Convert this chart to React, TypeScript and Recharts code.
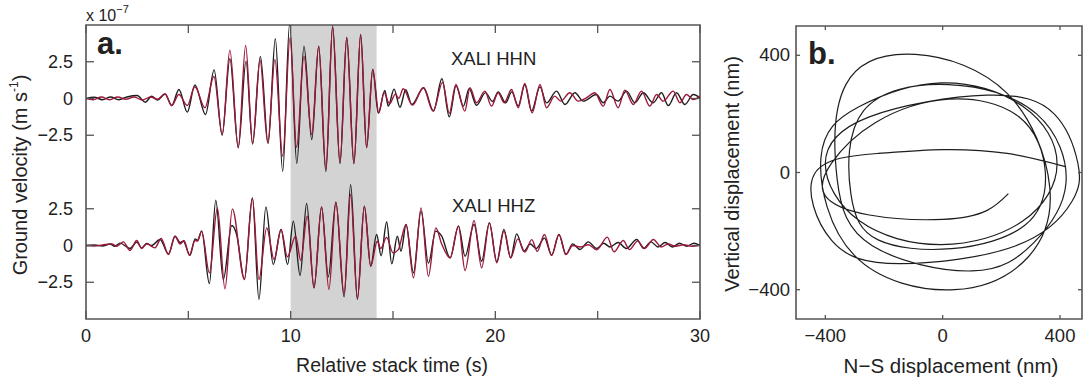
import React from 'react'
import { LineChart, Line, XAxis, YAxis, ReferenceArea } from 'recharts'

// ground velocity in units of 1e-7 m/s, read at the turning points of each trace: [time (s), value]
const hhnObserved: [number, number][] = [
  [0, 0], [0.4, 0.08], [0.8, -0.08], [1.2, 0.1], [1.6, -0.08], [2.0, 0.1], [2.5, 0.2], [2.9, -0.25],
  [3.2, 0.15], [3.5, -0.1], [3.86, 0.3], [4.19, -0.48], [4.54, 0.61], [4.95, -0.93], [5.32, 0.93],
  [5.84, -1.09], [6.26, 1.95], [6.65, -2.5], [7.03, 2.7], [7.44, -3.33], [7.82, 2.54], [8.14, -3.1],
  [8.52, 2.86], [8.9, -3.06], [9.25, 4.06], [9.61, -4.95], [9.95, 5.1], [10.3, -4.42], [10.65, 3.56],
  [11.03, -2.79], [11.37, 3.56], [11.72, -4.97], [12.05, 4.9], [12.41, -4.42], [12.74, 4.15],
  [13.09, -4.42], [13.42, 4.35], [13.71, -3.33], [14.01, 1.97], [14.28, -1.0], [14.6, 0.55],
  [14.77, -0.52], [15.05, 0.64], [15.34, -0.6], [15.62, 0.6], [15.92, -0.41], [16.5, 0.73],
  [16.98, -0.85], [17.39, 1.34], [17.75, -1.25], [18.08, 0.86], [18.44, -0.52], [18.72, 0.67],
  [19.08, -0.46], [19.52, 0.4], [19.86, -0.2], [20.14, 0.45], [20.5, -0.3], [20.8, 0.45], [21.12, -0.5],
  [21.44, 0.95], [21.77, -0.86], [22.18, 0.79], [22.5, -0.3], [22.99, 0.5], [23.4, -0.41], [23.89, 0.39],
  [24.29, -0.18], [24.94, 0.27], [25.27, -0.29], [25.6, 0.16], [26.0, -0.18], [26.41, 0.5], [26.82, -0.29],
  [27.23, 0.39], [27.71, -0.29], [28.12, 0.39], [28.45, -0.48], [28.85, 0.39], [29.26, -0.41],
  [29.67, 0.27], [30, 0.05],
]

const hhnSynthetic: [number, number][] = [
  [0, 0], [0.35, -0.08], [0.75, 0.1], [1.15, -0.08], [1.55, 0.1], [1.95, -0.06], [2.35, 0.1], [2.75, -0.1],
  [3.15, 0.1], [3.5, -0.05], [3.86, 0.32], [4.19, -0.48], [4.54, 0.27], [4.95, -0.48], [5.32, 0.8],
  [5.81, -0.63], [6.25, 1.5], [6.66, -2.45], [7.03, 3.29], [7.44, -3.35], [7.8, 3.61], [8.14, -3.06],
  [8.5, 2.65], [8.88, -3.01], [9.23, 2.65], [9.61, -3.93], [9.97, 4.13], [10.29, -3.33], [10.65, 2.88],
  [11.03, -2.45], [11.37, 3.56], [11.72, -4.83], [12.05, 4.88], [12.41, -4.37], [12.74, 4.13],
  [13.09, -4.42], [13.42, 4.35], [13.71, -3.35], [14.01, 1.97], [14.31, -0.97], [14.56, 0.4],
  [14.83, -0.35], [15.12, 0.3], [15.28, 0.0], [15.5, 0.66], [15.95, -0.45], [16.48, 0.73], [16.96, -0.86],
  [17.42, 1.1], [17.75, -1.0], [18.07, 0.95], [18.51, -0.86], [18.76, 0.73], [19.08, -0.29], [19.49, 0.5],
  [19.81, -0.52], [20.14, 0.39], [20.43, -0.29], [20.79, 0.61], [21.12, -0.63], [21.44, 1.02],
  [21.8, -0.98], [22.18, 0.95], [22.5, -0.63], [22.9, 0.16], [23.2, -0.18], [23.64, 0.39], [24.05, -0.18],
  [24.45, 0.05], [24.86, 0.39], [25.27, -0.52], [25.6, 0.61], [26.0, -0.63], [26.33, 0.57], [26.74, -0.41],
  [27.14, 0.5], [27.55, -0.52], [27.88, 0.27], [28.2, -0.18], [28.69, 0.5], [29.02, -0.29], [29.34, 0.27],
  [29.67, -0.07], [30, 0.16],
]

const hhzObserved: [number, number][] = [
  [0, 0], [0.4, 0.03], [0.8, -0.03], [1.18, 0.1], [1.4, -0.05], [1.66, 0.16], [2.15, -0.2], [2.48, 0.23],
  [2.72, -0.16], [2.97, 0.14], [3.2, 0.0], [3.62, 0.41], [4.03, -0.57], [4.35, 0.63], [4.6, 0.2],
  [4.75, 0.3], [5.08, -0.66], [5.33, 0.45], [5.45, 0.35], [5.65, 0.98], [6.03, -2.59], [6.34, 3.08],
  [6.71, -2.31], [7.12, 1.36], [7.36, 0.75], [7.74, -2.31], [8.13, 3.24], [8.45, -3.67], [8.79, 2.63],
  [9.15, -1.29], [9.53, 1.09], [9.85, -1.29], [10.13, 1.66], [10.46, -2.04], [10.78, 2.86], [11.14, -2.88],
  [11.51, 2.63], [11.84, -2.13], [12.21, 2.95], [12.61, -3.49], [12.93, 4.15], [13.26, -3.67], [13.6, 2.68],
  [13.91, -1.41], [14.2, 0.75], [14.42, -0.7], [14.69, 1.6], [14.94, -1.25], [15.21, 0.63], [15.39, -0.39],
  [15.64, 1.43], [16.0, -1.86], [16.37, 2.34], [16.73, -1.2], [17.09, 0.98], [17.38, 0.63], [17.79, -0.84],
  [18.2, 1.32], [18.52, -0.73], [18.96, 1.43], [19.33, -1.07], [19.71, 1.54], [20.07, -1.1], [20.42, 1.1],
  [20.75, -0.84], [21.04, 0.79], [21.4, -0.4], [21.7, 0.1], [22.0, -0.2], [22.4, 0.5], [22.75, -0.66],
  [23.11, 0.75], [23.45, -0.61], [23.78, 0.11], [24.14, -0.27], [24.54, 0.25], [24.95, -0.2], [25.3, 0.15],
  [25.6, -0.1], [26.0, 0.2], [26.4, -0.2], [26.91, 0.41], [27.25, -0.2], [27.6, 0.25], [27.95, -0.1],
  [28.3, 0.2], [28.65, -0.1], [29.0, 0.15], [29.35, -0.05], [29.7, 0.15], [30, 0.0],
]

const hhzSynthetic: [number, number][] = [
  [0, 0], [0.4, -0.03], [0.8, 0.03], [1.26, 0.11], [1.5, -0.05], [1.83, 0.25], [2.15, -0.34], [2.48, 0.34],
  [2.72, -0.2], [2.97, 0.11], [3.37, -0.16], [3.67, 0.48], [4.03, -0.61], [4.35, 0.63], [4.6, 0.1],
  [4.79, 0.34], [5.05, -0.66], [5.33, 0.34], [5.45, 0.3], [5.65, 0.98], [6.03, -1.86], [6.42, 2.56],
  [6.79, -2.95], [7.15, 2.49], [7.74, -2.31], [8.13, 3.24], [8.45, -2.31], [8.83, 1.2], [9.19, -0.95],
  [9.53, 1.09], [9.84, -0.77], [10.24, 0.63], [10.49, -1.0], [10.81, 1.99], [11.14, -2.88], [11.51, 2.63],
  [11.87, -2.99], [12.21, 2.95], [12.61, -3.3], [12.93, 3.47], [13.26, -3.6], [13.6, 2.68], [13.91, -1.41],
  [14.23, 0.29], [14.4, -0.2], [14.69, 0.55], [15.0, -0.5], [15.25, -0.3], [15.64, 1.43], [16.0, -2.2],
  [16.37, 2.56], [16.73, -2.09], [17.09, 1.2], [17.38, 0.1], [17.79, -0.84], [18.2, 1.32], [18.52, -1.7],
  [18.96, 1.7], [19.33, -1.52], [19.71, 1.54], [20.07, -1.18], [20.42, 0.98], [20.75, -0.84], [21.1, 0.45],
  [21.45, -0.45], [21.78, 0.4], [22.05, -0.4], [22.4, 0.75], [22.75, -0.66], [23.11, 0.75], [23.45, -0.61],
  [23.78, 0.0], [24.15, -0.1], [24.55, 0.05], [24.95, -0.3], [25.47, 0.57], [25.8, -0.43], [26.25, 0.34],
  [26.55, -0.27], [26.95, 0.3], [27.3, -0.2], [27.72, 0.41], [28.1, -0.1], [28.45, 0.1], [28.8, -0.05],
  [29.2, 0.05], [29.6, -0.05], [30, 0.02],
]

// particle motion, N-S vs vertical displacement (nm), in trace order
const particleMotion: [number, number][] = [
  [421, 19], [220, 65], [0, 78], [-220, 65], [-437, -5],
  [-380, -230], [-143, -311], [250, -250], [440, -100], [461, 31], [380, 200], [150, 264], [-250, 190],
  [-400, 30], [-284, -165], [-5, -246], [274, -165], [390, 30], [274, 225], [-5, 306], [-284, 225],
  [-415, 50], [-301, -283], [40, -400], [290, -290], [365, -50], [220, 270], [-93, 403], [-330, 300],
  [-360, -20], [-240, -250], [100, -336], [310, -240], [420, -40], [320, 200], [20, 300], [-270, 210],
  [-313, -72], [-220, -230], [30, -260], [280, -180], [350, 0], [260, 190], [20, 250], [-230, 170],
  [-380, 30], [-400, -80], [-250, -145], [0, -160], [150, -130], [224, -72],
]

const timeTicks = [0, 5, 10, 15, 20, 25, 30]
const timeTickLabels = ['0', '', '10', '', '20', '', '30']
const velocityTicks = [2.5, 0, -2.5]
const stationOffset = 10 // HHZ drawn this many units below HHN
const windowStart = 10
const windowEnd = 14.2
const dispXTicks = [-400, 0, 400]
const dispYTicks = [-400, 0, 400]

const axisColor = '#555'
const ink = '#222'
const observedColor = '#1e1e1e'
const syntheticColor = '#9c1838'
const font = '"Liberation Sans", Arial, Helvetica, sans-serif'

// plot boxes (px inside each chart)
const A = { left: 86, top: 25, right: 700, bottom: 319 }
const B = { left: 56, top: 26, right: 342, bottom: 319 }

const minus = (v: number) => (v < 0 ? '\u2212' + Math.abs(v) : String(v))

const toSeries = (pts: [number, number][], shift = 0) => pts.map(([t, v]) => ({ t, v: v - shift }))

function TimeTick({ x, payload }: any) {
  const label = timeTickLabels[timeTicks.indexOf(payload.value)]
  return (
    <g>
      <line x1={x} x2={x} y1={A.bottom} y2={A.bottom - 8} stroke={axisColor} strokeWidth={1.3} />
      <line x1={x} x2={x} y1={A.top} y2={A.top + 8} stroke={axisColor} strokeWidth={1.3} />
      <text x={x} y={A.bottom + 23} textAnchor="middle" fontSize={18} fill={ink} fontFamily={font}>
        {label}
      </text>
    </g>
  )
}

function VelocityTick({ y, payload }: any) {
  const v = payload.value
  const shown = v < -5 ? v + stationOffset : v
  return (
    <g>
      <line x1={A.left} x2={A.left + 8} y1={y} y2={y} stroke={axisColor} strokeWidth={1.3} />
      <line x1={A.right - 8} x2={A.right} y1={y} y2={y} stroke={axisColor} strokeWidth={1.3} />
      <text x={A.left - 13} y={y + 6} textAnchor="end" fontSize={18} fill={ink} fontFamily={font}>
        {minus(shown)}
      </text>
    </g>
  )
}

function DispXTick({ x, payload }: any) {
  return (
    <g>
      <line x1={x} x2={x} y1={B.bottom} y2={B.bottom - 4} stroke={axisColor} strokeWidth={1.3} />
      <line x1={x} x2={x} y1={B.top} y2={B.top + 4} stroke={axisColor} strokeWidth={1.3} />
      <text x={x} y={B.bottom + 23} textAnchor="middle" fontSize={18.5} fill={ink} fontFamily={font}>
        {minus(payload.value)}
      </text>
    </g>
  )
}

function DispYTick({ y, payload }: any) {
  return (
    <g>
      <line x1={B.left} x2={B.left + 4} y1={y} y2={y} stroke={axisColor} strokeWidth={1.3} />
      <line x1={B.right - 4} x2={B.right} y1={y} y2={y} stroke={axisColor} strokeWidth={1.3} />
      <text x={B.left - 6} y={y + 6} textAnchor="end" fontSize={18.5} fill={ink} fontFamily={font}>
        {minus(payload.value)}
      </text>
    </g>
  )
}

function Text({ left, top, size = 18, bold = false, rotate = false, children }: any) {
  return (
    <div
      style={{
        position: 'absolute',
        left,
        top,
        fontSize: size,
        fontWeight: bold ? 700 : 400,
        lineHeight: 1,
        whiteSpace: 'nowrap',
        color: ink,
        transform: rotate ? 'translate(-50%, -50%) rotate(-90deg)' : undefined,
      }}
    >
      {children}
    </div>
  )
}

function Centered({ left, top, size = 19.5, children }: any) {
  return (
    <div
      style={{
        position: 'absolute',
        left,
        top,
        fontSize: size,
        lineHeight: 1,
        whiteSpace: 'nowrap',
        color: ink,
        transform: 'translate(-50%, -50%)',
      }}
    >
      {children}
    </div>
  )
}

export default function App() {
  const lineProps = { type: 'monotone' as const, dot: false, activeDot: false, isAnimationActive: false, strokeWidth: 1.4, dataKey: 'v' }
  return (
    <div style={{ position: 'absolute', left: 0, top: 0, width: 1083, height: 382, background: '#fff', fontFamily: font, overflow: 'hidden' }}>
      <div style={{ position: 'absolute', left: 0, top: 0 }}>
        <LineChart width={710} height={382} margin={{ top: A.top, right: 710 - A.right, bottom: 382 - A.bottom - 1, left: A.left - 1 }}>
          <XAxis
            dataKey="t"
            type="number"
            domain={[0, 30]}
            ticks={timeTicks}
            interval={0}
            height={1}
            tickSize={0}
            tickMargin={0}
            tick={TimeTick}
            axisLine={false}
            allowDataOverflow
          />
          <YAxis
            type="number"
            domain={[-15, 5]}
            ticks={[...velocityTicks, ...velocityTicks.map((v) => v - stationOffset)]}
            interval={0}
            width={1}
            tickSize={0}
            tickMargin={0}
            tick={VelocityTick}
            axisLine={false}
            allowDataOverflow
          />
          <ReferenceArea x1={windowStart} x2={windowEnd} fill="#d3d3d3" fillOpacity={1} stroke="none" />
          <Line {...lineProps} data={toSeries(hhnObserved)} stroke={observedColor} />
          <Line {...lineProps} data={toSeries(hhnSynthetic)} stroke={syntheticColor} />
          <Line {...lineProps} data={toSeries(hhzObserved, stationOffset)} stroke={observedColor} />
          <Line {...lineProps} data={toSeries(hhzSynthetic, stationOffset)} stroke={syntheticColor} />
          <ReferenceArea x1={0} x2={30} y1={-15} y2={5} fill="none" stroke={axisColor} strokeWidth={1.6} />
        </LineChart>
      </div>

      <div style={{ position: 'absolute', left: 740, top: 0 }}>
        <LineChart width={343} height={382} margin={{ top: B.top, right: 343 - B.right, bottom: 382 - B.bottom - 1, left: B.left - 1 }}>
          <XAxis
            dataKey="x"
            type="number"
            domain={[-500, 475]}
            ticks={dispXTicks}
            interval={0}
            height={1}
            tickSize={0}
            tickMargin={0}
            tick={DispXTick}
            axisLine={false}
            allowDataOverflow
          />
          <YAxis
            type="number"
            domain={[-500, 500]}
            ticks={dispYTicks}
            interval={0}
            width={1}
            tickSize={0}
            tickMargin={0}
            tick={DispYTick}
            axisLine={false}
            allowDataOverflow
          />
          <Line
            data={particleMotion.map(([x, y]) => ({ x, y }))}
            dataKey="y"
            type="natural"
            stroke={observedColor}
            strokeWidth={1.2}
            dot={false}
            activeDot={false}
            isAnimationActive={false}
          />
          <ReferenceArea x1={-500} x2={475} y1={-500} y2={500} fill="none" stroke={axisColor} strokeWidth={1.6} />
        </LineChart>
      </div>

      <Text left={86} top={8} size={16}>
        x 10<sup style={{ fontSize: 11, verticalAlign: 'top', position: 'relative', top: -4 }}>{'\u22127'}</sup>
      </Text>
      <Text left={97} top={28} size={31} bold>a.</Text>
      <Text left={808} top={38} size={31} bold>b.</Text>
      <Text left={451} top={50} size={18.5}>XALI HHN</Text>
      <Text left={452} top={197} size={18.5}>XALI HHZ</Text>
      <Text left={20} top={175} size={20} rotate>
        Ground velocity (m s<sup style={{ fontSize: 12, verticalAlign: 'top', position: 'relative', top: -2 }}>-1</sup>)
      </Text>
      <Text left={732} top={174} size={20} rotate>Vertical displacement (nm)</Text>
      <Centered left={392} top={366}>Relative stack time (s)</Centered>
      <Centered left={951} top={366} size={20.5}>{'N\u2212S displacement (nm)'}</Centered>
    </div>
  )
}
